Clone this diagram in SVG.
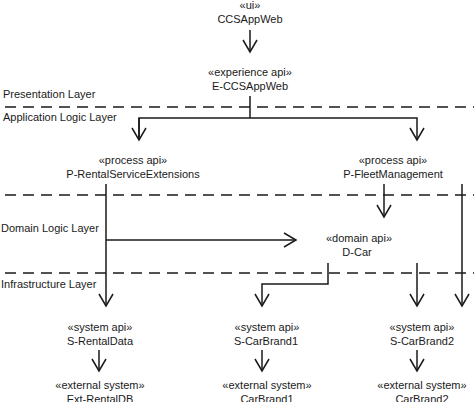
<svg xmlns="http://www.w3.org/2000/svg" width="474" height="402" viewBox="0 0 474 402">
<defs>
<style>
text{font-family:"Liberation Sans",Arial,sans-serif;font-size:11px;fill:#1a1a1a}
.c{text-anchor:middle}
.layer{stroke:#1a1a1a;stroke-width:1.6;stroke-dasharray:11 7;fill:none}
.e{stroke:#1a1a1a;stroke-width:1.5;fill:none}
</style>
<marker id="a" viewBox="0 0 16 16" refX="14" refY="8" markerWidth="16" markerHeight="16" markerUnits="userSpaceOnUse" orient="auto">
<path d="M2,1 L14,8 L2,15" fill="none" stroke="#1a1a1a" stroke-width="1.5"/>
</marker>
</defs>
<rect width="474" height="402" fill="#fff"/>
<g id="layers">
<line class="layer" x1="5" y1="107" x2="474" y2="107"/>
<line class="layer" x1="5" y1="195" x2="474" y2="195"/>
<line class="layer" x1="5" y1="273" x2="474" y2="273"/>
<text x="3" y="98">Presentation Layer</text>
<text x="3" y="121">Application Logic Layer</text>
<text x="1" y="232">Domain Logic Layer</text>
<text x="1" y="288">Infrastructure Layer</text>
</g>
<g id="connectors">
<line class="e" x1="250" y1="30" x2="250" y2="52" marker-end="url(#a)"/>
<line class="e" x1="250" y1="96" x2="250" y2="118"/>
<polyline class="e" points="139,140 139,118 417,118 417,140" marker-end="url(#a)"/>
<line class="e" x1="139" y1="118" x2="139" y2="140" marker-end="url(#a)"/>
<line class="e" x1="106" y1="184" x2="106" y2="306" marker-end="url(#a)"/>
<line class="e" x1="106" y1="240" x2="296" y2="240" marker-end="url(#a)"/>
<line class="e" x1="384" y1="184" x2="384" y2="217" marker-end="url(#a)"/>
<line class="e" x1="462" y1="184" x2="462" y2="306" marker-end="url(#a)"/>
<polyline class="e" points="328,263 328,284 262,284 262,306" marker-end="url(#a)"/>
<line class="e" x1="417" y1="263" x2="417" y2="306" marker-end="url(#a)"/>
<line class="e" x1="99" y1="350" x2="99" y2="371" marker-end="url(#a)"/>
<line class="e" x1="262" y1="350" x2="262" y2="371" marker-end="url(#a)"/>
<line class="e" x1="417" y1="350" x2="417" y2="371" marker-end="url(#a)"/>
</g>
<g id="CCSAppWeb"><text class="c" x="250" y="9">«ui»</text><text class="c" x="250" y="23">CCSAppWeb</text></g>
<g id="E-CCSAppWeb"><text class="c" x="250" y="76">«experience api»</text><text class="c" x="250" y="90">E-CCSAppWeb</text></g>
<g id="P-RentalServiceExtensions"><text class="c" x="133" y="164">«process api»</text><text class="c" x="133" y="178">P-RentalServiceExtensions</text></g>
<g id="P-FleetManagement"><text class="c" x="393" y="164">«process api»</text><text class="c" x="393" y="178">P-FleetManagement</text></g>
<g id="D-Car"><text class="c" x="359" y="242">«domain api»</text><text class="c" x="357" y="256">D-Car</text></g>
<g id="S-RentalData"><text class="c" x="100" y="331">«system api»</text><text class="c" x="100" y="345">S-RentalData</text></g>
<g id="S-CarBrand1"><text class="c" x="267" y="331">«system api»</text><text class="c" x="266" y="345">S-CarBrand1</text></g>
<g id="S-CarBrand2"><text class="c" x="422" y="331">«system api»</text><text class="c" x="422" y="345">S-CarBrand2</text></g>
<g id="Ext-RentalDB"><text class="c" x="100" y="389">«external system»</text><text class="c" x="100" y="403">Ext-RentalDB</text></g>
<g id="CarBrand1"><text class="c" x="267" y="389">«external system»</text><text class="c" x="267" y="403">CarBrand1</text></g>
<g id="CarBrand2"><text class="c" x="422" y="389">«external system»</text><text class="c" x="422" y="403">CarBrand2</text></g>
</svg>
